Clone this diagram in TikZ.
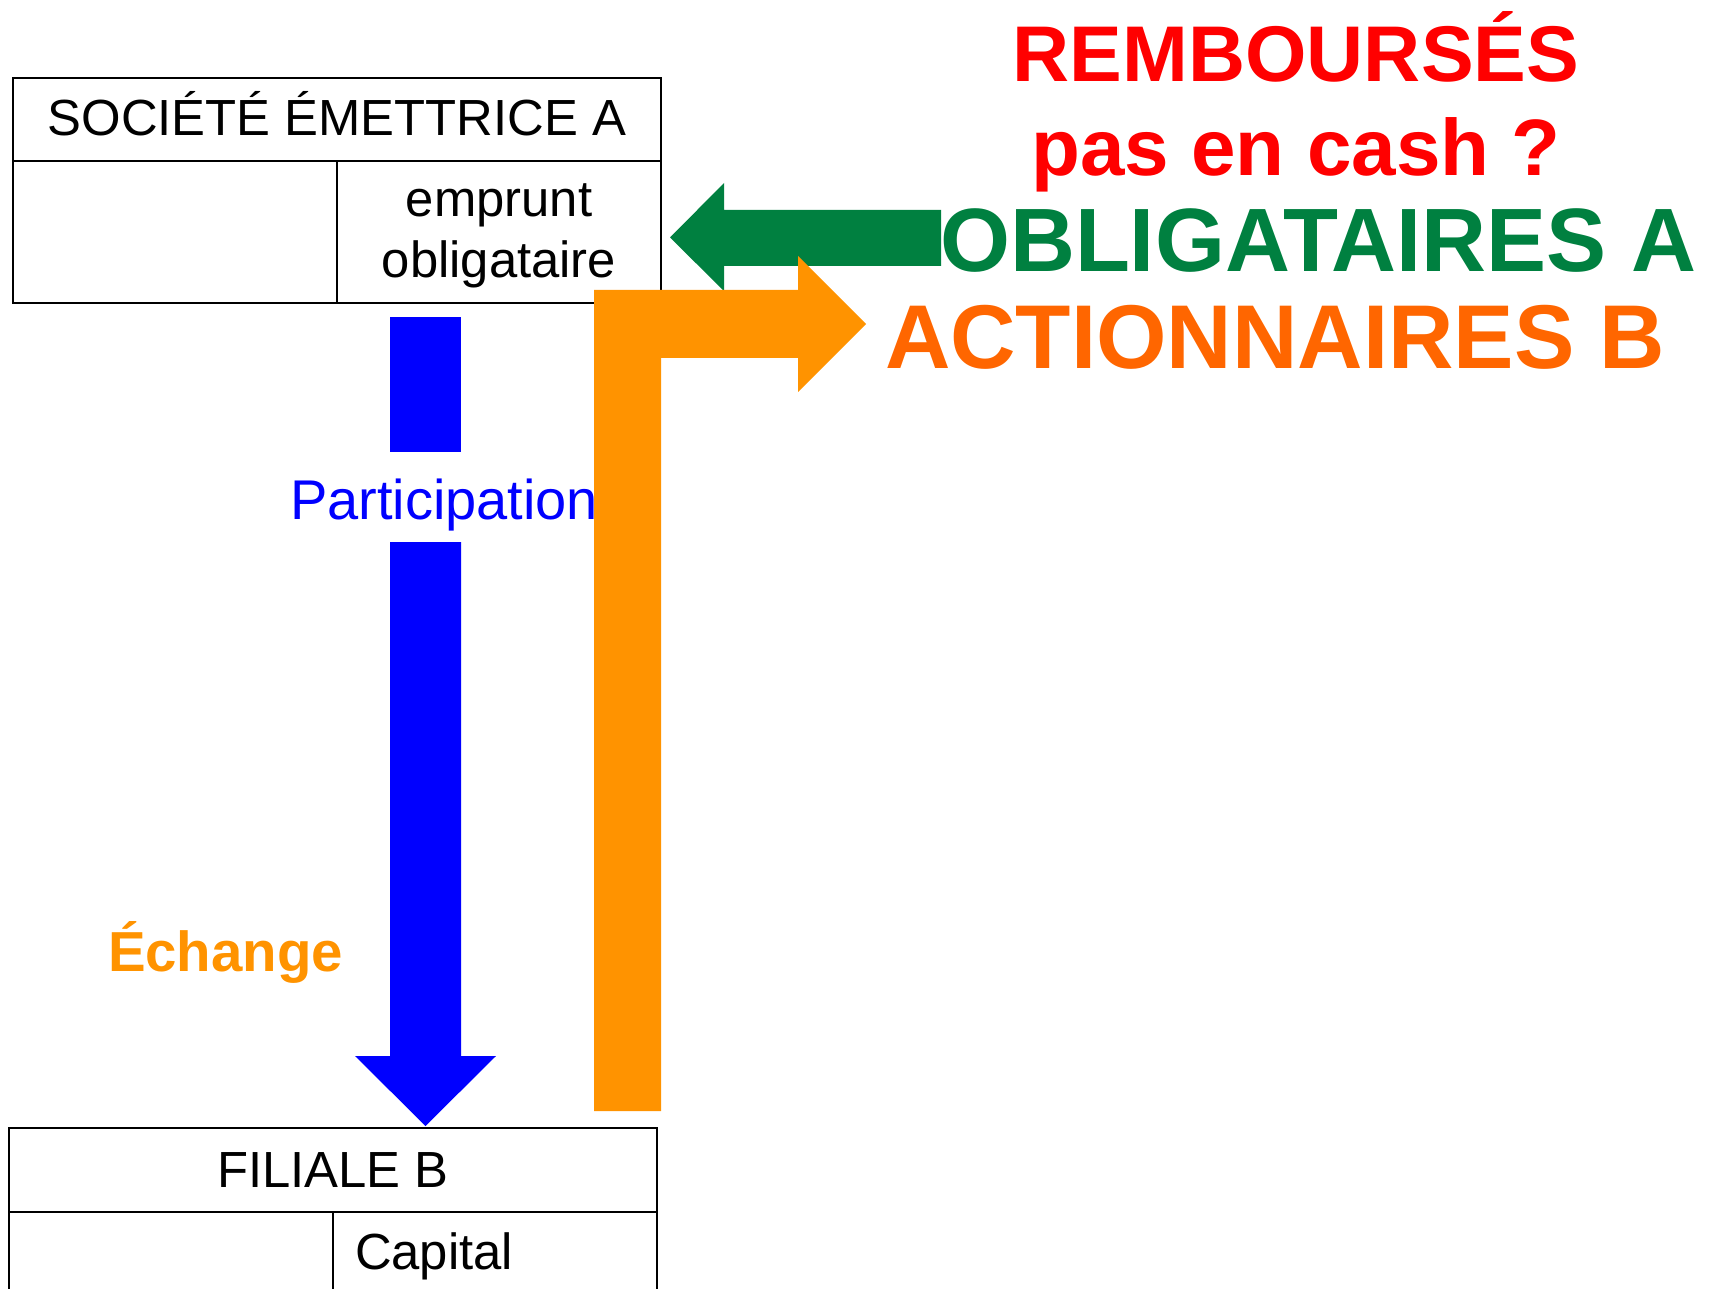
\documentclass[tikz,border=0pt]{standalone}
\usepackage{fontspec}
\setmainfont{Liberation Sans}
\definecolor{arrblue}{RGB}{0,0,255}
\definecolor{arrgreen}{RGB}{0,128,64}
\definecolor{arrorange}{RGB}{255,147,0}
\definecolor{txtorange}{RGB}{255,102,0}
\definecolor{txtred}{RGB}{255,0,0}
\begin{document}
\begin{tikzpicture}[x=0.5pt,y=-0.5pt,
  boxline/.style={draw=black,line width=1.3pt},
  lbl/.style={inner sep=0pt,outer sep=0pt},
  boxtext/.style={lbl,font=\fontsize{25.4}{30}\selectfont,text=black},
  bigtext/.style={lbl,font=\fontsize{40}{48}\selectfont\bfseries}]
\useasboundingbox (0,0) rectangle (1715,1289);
% top box: SOCIETE EMETTRICE A
\coordinate (aNW) at (13,78);
\coordinate (aSE) at (661,303);
\draw[boxline] (aNW) rectangle (aSE);
\draw[boxline] (13,161) -- (661,161);
\draw[boxline] (337,161) -- (337,303);
\node[boxtext,anchor=base] (atitle) at (337,136) {SOCIÉTÉ ÉMETTRICE A};
\node[boxtext,anchor=base] (aemp1) at (499,217) {emprunt};
\node[boxtext,anchor=base] (aemp2) at (499,278) {obligataire};
% bottom box: FILIALE B
\draw[boxline] (9,1295) -- (9,1128) -- (657,1128) -- (657,1295);
\draw[boxline] (9,1212) -- (657,1212);
\draw[boxline] (333,1212) -- (333,1295);
\node[boxtext,anchor=base] (btitle) at (333,1187) {FILIALE B};
\node[boxtext,anchor=base west] (bcap) at (355,1269) {Capital};
% blue arrow (participation)
\fill[arrblue] (390,317) rectangle (461,452);
\fill[arrblue] (390,542) -- (461,542) -- (461,1056) -- (496,1056) -- (425.5,1126) -- (355,1056) -- (390,1056) -- cycle;
\node[lbl,anchor=base west,text=arrblue,font=\fontsize{28}{34}\selectfont] (part) at (290,519) {Participation};
% green arrow
\fill[arrgreen] (941,210) -- (724,210) -- (724,183) -- (670,237.5) -- (724,291) -- (724,266) -- (941,266) -- cycle;
% orange bent arrow
\fill[arrorange] (594,1111) -- (594,290) -- (798,290) -- (798,256) -- (866,324) -- (798,392) -- (798,358) -- (661,358) -- (661,1111) -- cycle;
\node[lbl,anchor=base west,text=arrorange,font=\fontsize{28.2}{34}\selectfont\bfseries] (ech) at (108,971) {Échange};
% right texts
\node[bigtext,anchor=base,text=txtred,font=\fontsize{39.5}{48}\selectfont\bfseries] (remb) at (1296,82) {REMBOURSÉS};
\node[bigtext,anchor=base,text=txtred,font=\fontsize{40}{48}\selectfont\bfseries] (cash) at (1296,176) {pas en cash ?};
\node[bigtext,anchor=base west,text=arrgreen,font=\fontsize{45}{54}\selectfont\bfseries] (oblig) at (940,272) {OBLIGATAIRES A};
\node[bigtext,anchor=base west,text=txtorange,font=\fontsize{45.3}{54}\selectfont\bfseries] (action) at (885,369) {ACTIONNAIRES B};
\end{tikzpicture}
\end{document}
